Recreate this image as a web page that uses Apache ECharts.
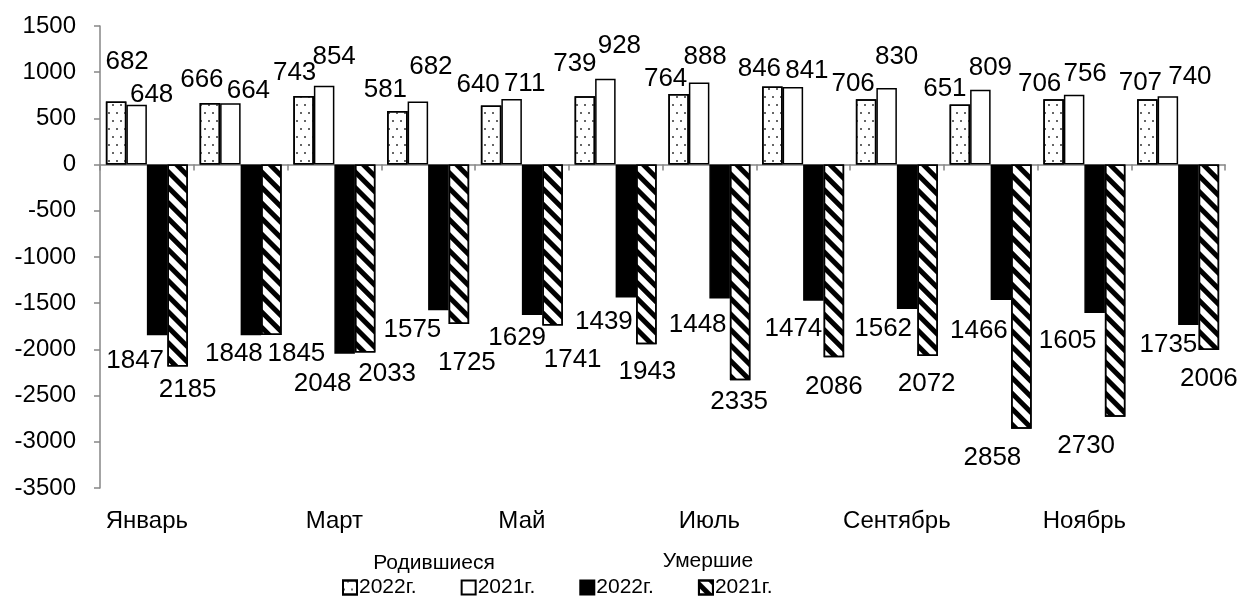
<!DOCTYPE html>
<html>
<head>
<meta charset="utf-8">
<script src="https://cdn.jsdelivr.net/npm/echarts@6/dist/echarts.min.js"></script>
<style>
	html, body { margin: 0; padding: 0; background: #fff; }
	#chart { width: 1242px; height: 599px; }
</style>
</head>
<body>
<div id="chart"></div>
<script>
// данные
var months = ['Январь', 'Февраль', 'Март', 'Апрель', 'Май', 'Июнь',
	'Июль', 'Август', 'Сентябрь', 'Октябрь', 'Ноябрь', 'Декабрь'];
var born2022 = [682, 666, 743, 581, 640, 739, 764, 846, 706, 651, 706, 707];
var born2021 = [648, 664, 854, 682, 711, 928, 888, 841, 830, 809, 756, 740];
var died2022 = [1847, 1848, 2048, 1575, 1629, 1439, 1448, 1474, 1562, 1466, 1605, 1735];
var died2021 = [2185, 1845, 2033, 1725, 1741, 1943, 2335, 2086, 2072, 2858, 2730, 2006];
var yTicks = { min: -3500, max: 1500, step: 500 };

// сдвиги подписей (как в исходной диаграмме)
var shiftB22 = [[11, -27], [-8, -10], [-9, -10], [-12, -8], [-13, -8], [-10, -19], [-13, -2], [-13, -5], [-13, -3], [-15, -3], [-14, -3], [-7, -3]];
var shiftB21 = [[15, 3], [18, 1], [10, -16], [13, -22], [13, -2], [14, -20], [6, -13], [14, -3], [10, -18], [10, -9], [11, -8], [22, -6]];
var shiftD22 = [[-22, 13], [-17, 5], [-22, 17], [-26, 7], [-15, 10], [-22, 11], [-22, 13], [-20, 15], [-24, 7], [-22, 18], [-27, 15], [-20, 7]];
var shiftD21 = [[10, 10], [25, 6], [22, 8], [8, 26], [20, 21], [1, 15], [-1, 8], [0, 16], [-1, 15], [-29, 16], [-29, 16], [0, 16]];

var FONT = 'Liberation Sans, Arial, sans-serif';

function makeData(values, sign, shifts) {
	return values.map(function (v, i) {
		return { value: sign * v, label: { offset: shifts[i] } };
	});
}

function barSeries(name, values, sign, shifts, style) {
	return {
		name: name,
		type: 'bar',
		barGap: '0%',
		barCategoryGap: '12.5%',
		data: makeData(values, sign, shifts),
		itemStyle: style,
		label: {
			show: true,
			position: 'outside',
			distance: 0,
			color: '#000',
			fontSize: 26,
			fontFamily: FONT,
			formatter: function (p) { return Math.abs(p.value); }
		}
	};
}

var dotDecal = {
	symbol: 'circle',
	color: '#333',
	symbolSize: 1,
	dashArrayX: [[1.6, 5.4], [0, 3.5, 1.6, 1.9]],
	dashArrayY: [1.6, 5.4],
	rotation: 0
};
var stripeDecal = {
	symbol: 'rect',
	color: '#000',
	symbolSize: 1,
	dashArrayX: [1, 0],
	dashArrayY: [4.5, 6],
	rotation: Math.PI / 4
};

var myChart = echarts.init(document.getElementById('chart'), null, { renderer: 'canvas' });

var option = {
	backgroundColor: '#fff',
	animation: false,
	textStyle: { fontFamily: FONT },
	grid: { left: 100, right: 17, top: 26, bottom: 111 },
	xAxis: [
		{
			type: 'category',
			data: months,
			axisLine: { show: false, onZero: false },
			axisTick: { show: false },
			axisLabel: { interval: 1, margin: 21, color: '#000', fontSize: 24, fontFamily: FONT }
		},
		{
			type: 'category',
			data: months,
			position: 'bottom',
			axisLine: { onZero: true, lineStyle: { color: '#868686', width: 1.5 } },
			axisTick: { show: true, interval: 0, length: 6, lineStyle: { color: '#868686', width: 1.5 } },
			axisLabel: { show: false }
		}
	],
	yAxis: {
		type: 'value',
		min: yTicks.min,
		max: yTicks.max,
		interval: yTicks.step,
		splitLine: { show: false },
		axisLine: { show: true, lineStyle: { color: '#868686', width: 1.5 } },
		axisTick: { show: true, length: 6, lineStyle: { color: '#868686', width: 1.5 } },
		axisLabel: {
			margin: 24, color: '#000', fontSize: 24, fontFamily: FONT,
			formatter: function (v) { return String(v); }
		}
	},
	legend: {
		left: 342,
		top: 577,
		padding: 0,
		itemWidth: 14,
		itemHeight: 14,
		itemGap: 44,
		icon: 'rect',
		textStyle: { color: '#000', fontSize: 21, fontFamily: FONT, padding: [0, 0, 0, -3] },
		formatter: function (name) { return name.split(' ')[1]; },
		data: ['Родившиеся 2022г.', 'Родившиеся 2021г.', 'Умершие 2022г.', 'Умершие 2021г.']
	},
	graphic: [
		{ type: 'text', x: 434, y: 563, style: { text: 'Родившиеся', fill: '#000', font: '21px ' + FONT, align: 'center', verticalAlign: 'middle' } },
		{ type: 'text', x: 708, y: 561, style: { text: 'Умершие', fill: '#000', font: '21px ' + FONT, align: 'center', verticalAlign: 'middle' } }
	],
	series: [
		barSeries('Родившиеся 2022г.', born2022, 1, shiftB22,
			{ color: '#fff', borderColor: '#000', borderWidth: 1.5, decal: dotDecal }),
		barSeries('Родившиеся 2021г.', born2021, 1, shiftB21,
			{ color: '#fff', borderColor: '#000', borderWidth: 1.5 }),
		barSeries('Умершие 2022г.', died2022, -1, shiftD22,
			{ color: '#000', borderColor: '#000', borderWidth: 1.5 }),
		barSeries('Умершие 2021г.', died2021, -1, shiftD21,
			{ color: '#fff', borderColor: '#000', borderWidth: 1.5, decal: stripeDecal })
	]
};

myChart.setOption(option);
</script>
</body>
</html>
